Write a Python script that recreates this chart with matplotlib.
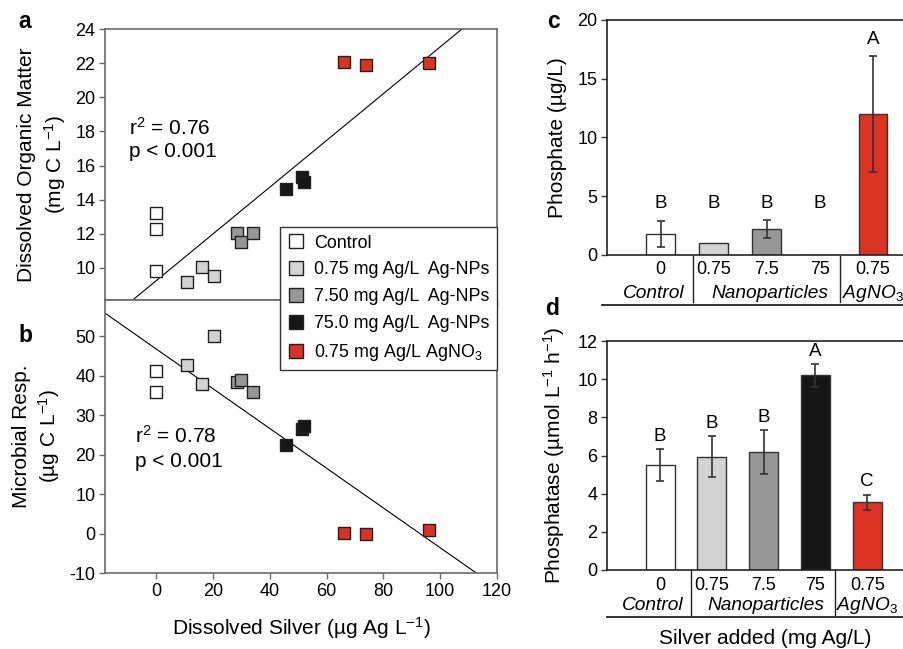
import matplotlib
matplotlib.use('Agg')
import matplotlib.pyplot as plt
import numpy as np
from matplotlib.transforms import blended_transform_factory
from matplotlib.lines import Line2D

plt.rcParams['font.family'] = ['Liberation Sans', 'DejaVu Sans']
plt.rcParams['mathtext.fontset'] = 'custom'
plt.rcParams['mathtext.rm'] = 'Liberation Sans'
plt.rcParams['mathtext.it'] = 'Liberation Sans:italic'
plt.rcParams['mathtext.bf'] = 'Liberation Sans:bold'
plt.rcParams['axes.unicode_minus'] = False

# ---------------- data ----------------
group_labels = ['Control', '0.75 mg Ag/L  Ag-NPs', '7.50 mg Ag/L  Ag-NPs',
                '75.0 mg Ag/L  Ag-NPs', r'0.75 mg Ag/L AgNO$_\mathrm{3}$']
group_colors = ['#ffffff', '#d3d3d3', '#979797', '#161616', '#dc3224']

# panel a: dissolved silver vs DOM
silver_ctrl_a = [0, 0, 0]
dom_ctrl = [13.2, 12.3, 9.8]
silver_np075 = [10.9, 16.3, 20.2]
dom_np075 = [9.2, 10.08, 9.53]
silver_np75 = [28.3, 29.9, 34.0]
dom_np75 = [12.07, 11.52, 12.03]
silver_np750 = [45.6, 51.2, 52.0]
dom_np750 = [14.63, 15.35, 15.02]
silver_agno3 = [66.0, 74.0, 96.0]
dom_agno3 = [22.07, 21.91, 22.03]

# panel b: dissolved silver vs microbial respiration
silver_ctrl_b = [0, 0]
resp_ctrl = [41.3, 35.8]
resp_np075 = [42.6, 38.0, 50.1]
resp_np75 = [38.3, 38.9, 35.9]
resp_np750 = [22.5, 26.4, 27.3]
resp_agno3 = [0.1, 0.0, 0.8]

# regression fits (intercept, slope)
fit_a = (9.25, 0.137)
fit_b = (46.8, -0.504)

# panel c: phosphate
phosphate = [1.8, 1.0, 2.2, 0.0, 12.0]
phosphate_err = [1.1, 0.0, 0.75, 0.0, 4.9]
phosphate_letters = ['B', 'B', 'B', 'B', 'A']
phosphate_letter_y = [4.4, 4.4, 4.4, 4.4, 18.3]

# panel d: phosphatase
phosphatase = [5.5, 5.93, 6.2, 10.2, 3.55]
phosphatase_err = [0.85, 1.08, 1.15, 0.6, 0.4]
phosphatase_letters = ['B', 'B', 'B', 'A', 'C']

dose_labels = ['0', '0.75', '7.5', '75', '0.75']
treat_names = ['Control', 'Nanoparticles', r'AgNO$_3$']
treat_pos = [-0.14, 2.05, 4.0]
sep_pos = [0.6, 3.37]

# ---------------- figure ----------------
W, H = 904, 649
fig = plt.figure(figsize=(W / 100, H / 100), dpi=100)

def fx(px):
    return px / W

def fy(py):
    return 1 - py / H

ax_a = fig.add_axes([fx(105), fy(300), fx(497) - fx(105), fy(29) - fy(300)])
ax_b = fig.add_axes([fx(105), fy(573), fx(497) - fx(105), fy(300) - fy(573)])
ax_c = fig.add_axes([fx(607), fy(255), 0.34, fy(20) - fy(255)])
ax_d = fig.add_axes([fx(607), fy(570), 0.34, fy(341) - fy(570)])

spine_gray = '#6a6a6a'
ms = 78
tick_fs = 13
label_fs = 15

xs_a = [silver_ctrl_a, silver_np075, silver_np75, silver_np750, silver_agno3]
ys_a = [dom_ctrl, dom_np075, dom_np75, dom_np750, dom_agno3]
xs_b = [silver_ctrl_b, silver_np075, silver_np75, silver_np750, silver_agno3]
ys_b = [resp_ctrl, resp_np075, resp_np75, resp_np750, resp_agno3]

for ax, xs, ys, fit, ylim, yticks in [
        (ax_a, xs_a, ys_a, fit_a, (8.12, 24), np.arange(10, 25, 2)),
        (ax_b, xs_b, ys_b, fit_b, (-10, 59.2), np.arange(-10, 51, 10))]:
    xl = np.array([-18, 120])
    ax.plot(xl, fit[0] + fit[1] * xl, color='black', lw=0.8, zorder=2)
    for x, y, c in zip(xs, ys, group_colors):
        ax.scatter(x, y, marker='s', s=ms, facecolor=c, edgecolor='#202020',
                   linewidths=1.0, zorder=3)
    ax.set_xlim(-18, 120)
    ax.set_ylim(*ylim)
    ax.set_yticks(yticks)
    ax.set_xticks(np.arange(0, 121, 20))
    for sp in ax.spines.values():
        sp.set_color(spine_gray)
        sp.set_linewidth(1.2)
    ax.tick_params(direction='out', length=4, width=1, color=spine_gray,
                   labelsize=tick_fs, pad=3)

ax_a.tick_params(axis='x', labelbottom=False)
ax_a.set_ylabel('Dissolved Organic Matter\n(mg C L$^{\\mathrm{-1}}$)', fontsize=label_fs,
                labelpad=5, linespacing=1.3)
ax_b.set_ylabel('Microbial Resp.\n(µg C L$^{\\mathrm{-1}}$)', fontsize=label_fs,
                labelpad=5, linespacing=1.3)
ax_b.set_xlabel('Dissolved Silver (µg Ag L$^{\\mathrm{-1}}$)', fontsize=label_fs, labelpad=11)

ax_a.text(-9.4, 18.2, r'r$^\mathrm{2}$ = 0.76', fontsize=15, va='center', ha='left')
ax_a.text(-9.4, 16.83, 'p < 0.001', fontsize=15, va='center', ha='left')
ax_b.text(-7.6, 24.8, r'r$^\mathrm{2}$ = 0.78', fontsize=15, va='center', ha='left')
ax_b.text(-7.6, 18.2, 'p < 0.001', fontsize=15, va='center', ha='left')

handles = [Line2D([], [], linestyle='none', marker='s', markersize=10.5,
                  markerfacecolor=c, markeredgecolor='#202020', markeredgewidth=1.0)
           for c in group_colors]
leg = fig.legend(handles, group_labels, loc='upper left',
                 bbox_to_anchor=(fx(280), fy(227)), frameon=True, fancybox=False,
                 edgecolor='#333333', framealpha=1, fontsize=12.9, handlelength=0.9,
                 handletextpad=0.6, labelspacing=0.55, borderpad=0.42,
                 borderaxespad=0)
leg.get_frame().set_linewidth(1.0)

# ---------------- bar panels ----------------
pos = np.arange(5)

def bar_panel(ax, vals, errs, xlim, ylim, yticks, ylabel, width,
              y_num, y_grp, y_sep_top, y_sep_bot, y_hline, hline_x0):
    ax.bar(pos, vals, width=width, color=group_colors, edgecolor='#333333',
           linewidth=1.0, zorder=2)
    for p, v, e in zip(pos, vals, errs):
        if e > 0:
            ax.errorbar(p, v, yerr=e, fmt='none', ecolor='#333333', elinewidth=1.2,
                        capsize=3, capthick=1.2, zorder=3)
    ax.set_xlim(*xlim)
    ax.set_ylim(*ylim)
    ax.set_yticks(yticks)
    ax.set_xticks([])
    ax.spines['right'].set_visible(False)
    for s in ['left', 'top', 'bottom']:
        ax.spines[s].set_color('#222222')
        ax.spines[s].set_linewidth(1.2)
    ax.tick_params(axis='y', direction='out', length=4, width=1, color='#333333',
                   labelsize=tick_fs, pad=3)
    ax.set_ylabel(ylabel, fontsize=label_fs, labelpad=7)
    tr = blended_transform_factory(ax.transData, fig.transFigure)
    for p, lab in zip(pos, dose_labels):
        ax.text(p, fy(y_num), lab, transform=tr, ha='center', va='center',
                fontsize=tick_fs, clip_on=False)
    for p, lab in zip(treat_pos, treat_names):
        ax.text(p, fy(y_grp), lab, transform=tr, ha='center', va='center',
                fontsize=13.8, style='italic', clip_on=False)
    for s in sep_pos:
        fig.add_artist(Line2D([s, s], [fy(y_sep_top), fy(y_sep_bot)], transform=tr,
                              color='#222222', lw=1.0))
    fig.add_artist(Line2D([fx(hline_x0), 1.0], [fy(y_hline), fy(y_hline)],
                          transform=fig.transFigure, color='#222222', lw=1.3))

bar_panel(ax_c, phosphate, phosphate_err, (-1.014, 4.78), (0, 20), [0, 5, 10, 15, 20],
          'Phosphate (µg/L)', 0.546, 269, 293, 256, 302, 305, 602)
for p, lab, y in zip(pos, phosphate_letters, phosphate_letter_y):
    ax_c.text(p, y, lab, ha='center', va='center', fontsize=13.5)

bar_panel(ax_d, phosphatase, phosphatase_err, (-1.026, 4.91), (0, 12),
          [0, 2, 4, 6, 8, 10, 12],
          'Phosphatase (µmol L$^{\\mathrm{-1}}$ h$^{\\mathrm{-1}}$)', 0.56,
          585, 605, 570, 615, 617, 607)
for p, lab, v, e in zip(pos, phosphatase_letters, phosphatase, phosphatase_err):
    ax_d.annotate(lab, (p, v + e), xytext=(0, 3), textcoords='offset points',
                  ha='center', va='bottom', fontsize=13.5)

fig.text(fx(765), fy(638), 'Silver added (mg Ag/L)', ha='center', va='center',
         fontsize=label_fs)

# panel letters
for lab, x, y in [('a', 25, 22), ('b', 25, 336), ('c', 554, 22), ('d', 552, 308)]:
    fig.text(fx(x), fy(y), lab, fontsize=16.5, fontweight='bold', ha='center',
             va='center')

fig.savefig('out.png', dpi=100)
